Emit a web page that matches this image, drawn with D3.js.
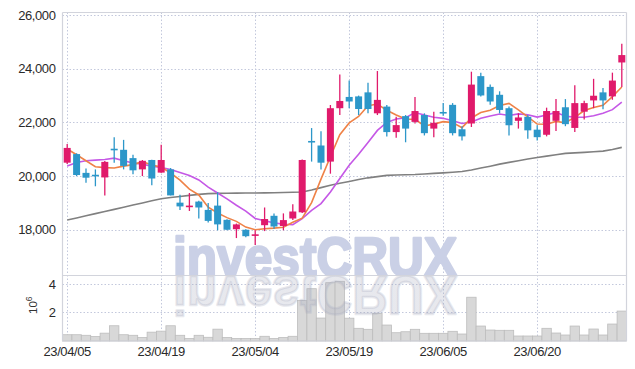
<!DOCTYPE html>
<html><head><meta charset="utf-8">
<script src="https://cdn.jsdelivr.net/npm/d3@7"></script>
<style>html,body{margin:0;padding:0;background:#fff;}svg{display:block;}</style>
</head><body>
<script>
const dates = ["23/04/05","23/04/06","23/04/07","23/04/10","23/04/11","23/04/12","23/04/13","23/04/14","23/04/17","23/04/18",
"23/04/19","23/04/20","23/04/21","23/04/24","23/04/25","23/04/26","23/04/27","23/04/28","23/05/02","23/05/03",
"23/05/04","23/05/08","23/05/09","23/05/10","23/05/11","23/05/12","23/05/15","23/05/16","23/05/17","23/05/18",
"23/05/19","23/05/22","23/05/23","23/05/24","23/05/25","23/05/26","23/05/30","23/05/31","23/06/01","23/06/02",
"23/06/05","23/06/07","23/06/08","23/06/09","23/06/12","23/06/13","23/06/14","23/06/15","23/06/16","23/06/19",
"23/06/20","23/06/21","23/06/22","23/06/23","23/06/26","23/06/27","23/06/28","23/06/29","23/06/30","23/07/03"];
const openP = [20500,20820,20120,20050,19950,21020,20980,20670,20250,20600,
20130,20250,19010,18880,19050,18740,18900,18370,18020,18000,
17800,18170,18520,18140,18420,18650,21310,21140,20540,22530,
22950,22970,23120,22340,22590,21640,22235,22020,22275,21770,
22390,22655,21745,21960,23725,23325,23030,22530,22060,22210,
21730,21540,22060,22565,21795,22400,22820,23120,22970,24235];
const highP = [21200,20850,20280,20250,20560,21450,21350,20795,20600,20610,
21170,20300,19300,19370,19080,19000,19400,18390,18230,18020,
17980,18830,18610,18610,18950,20620,21790,21670,22650,23790,
23560,23000,23475,23915,22650,22210,22275,22945,22340,22400,
22720,22720,21860,23890,23850,23410,23160,22590,22340,22275,
21895,22550,22870,22870,23385,22805,23625,23285,23855,24930];
const lowP = [20450,20000,19750,19620,19280,20500,20250,20065,20000,19660,
20120,19280,18740,18700,18420,18270,17980,17980,17690,17720,
17430,17950,18040,17980,18360,18620,20540,20250,20090,22280,
22530,22275,22340,22275,21480,21430,21260,21960,21515,21450,
22250,21515,21325,21830,22970,22655,22340,21515,21770,21390,
21325,21480,21680,21860,21640,22110,22530,22490,22845,23325];
const closeP = [21050,20040,19940,20020,20530,20990,20380,20215,20570,19910,
20600,19280,18870,18900,18830,18330,18200,18000,18200,17760,
17830,18400,18120,18360,18680,20600,21290,20500,22530,22800,
22780,22500,22500,22840,21640,21900,21770,22425,21600,21985,
22360,21600,21480,23410,23005,22780,22465,21895,22185,21705,
21450,22425,22425,21935,22720,22720,22995,22820,23560,24510];
// volume in millions of shares
const volume = [0.44,0.44,0.40,0.31,0.55,1.07,0.44,0.40,0.24,0.62,
0.69,1.07,0.40,0.17,0.40,0.26,0.83,0.24,0.17,0.17,
0.17,0.33,0.17,0.24,0.33,2.85,3.67,1.61,4.09,4.19,
1.60,0.89,0.82,1.94,1.12,0.58,0.65,0.82,0.54,0.54,
0.54,0.68,0.49,3.07,1.05,0.77,0.75,0.75,0.35,0.35,
0.35,0.89,0.56,0.42,1.05,0.42,0.84,0.42,1.19,2.10];
const ma5 = [21010,20795,20570,20350,20316,20304,20372,20427,20537,20413,
20335,20115,19846,19512,19296,18842,18626,18452,18312,18098,
17998,18038,18062,18094,18278,18432,19010,19886,20720,21544,
21980,22222,22622,22684,22452,22276,22130,22115,21867,21936,
22028,21994,21805,22167,22371,22455,22628,22711,22466,22206,
21940,21932,22038,21988,22191,22445,22559,22638,22963,23321];
const ma10 = [20380,20505,20570,20595,20620,20670,20570,20490,20445,20365,
20320,20244,20137,20025,19855,19589,19371,19149,18912,18697,
18420,18332,18257,18203,18188,18415,18724,18974,19407,19911,
20406,20816,21254,21702,21998,22128,22176,22369,22276,22194,
22152,22062,21960,22017,22154,22242,22311,22258,22317,22289,
22198,22280,22375,22227,22199,22193,22246,22338,22476,22756];
const ma60 = [18360,18440,18520,18600,18680,18760,18840,18920,19000,19080,
19155,19200,19240,19280,19320,19345,19355,19360,19365,19368,
19370,19375,19380,19390,19400,19405,19480,19570,19660,19730,
19800,19870,19935,19980,20025,20040,20050,20060,20080,20100,
20120,20145,20170,20230,20300,20370,20445,20510,20570,20635,
20695,20745,20795,20845,20865,20885,20905,20930,20990,21070];
const priceTicks = [18000,20000,22000,24000,26000];
const volTicks = [2,4];
const dateTicks = ["23/04/05","23/04/19","23/05/04","23/05/19","23/06/05","23/06/20"];

const W=635, H=369;
const L=62.5, R=626.5, T=12.5, MID=275.5, B=341;
const UP="#e01a6b", DOWN="#2c97c9", GRID="#c3c8dc", FRAME="#d2d4dc";

const svg = d3.select("body").append("svg").attr("width",W).attr("height",H)
  .style("font-family","'Liberation Sans', Arial, sans-serif");

const x = d3.scaleBand().domain(dates).range([L,R]).padding(0);
const cx = d => x(d) + x.bandwidth()/2;
const y = d3.scaleLinear().domain([16295,26097]).range([MID,T]);
const yv = d3.scaleLinear().domain([0,4.56]).range([B,276]);

const defs = svg.append("defs");
defs.append("clipPath").attr("id","volclip").append("rect").attr("x",L).attr("y",MID+0.5).attr("width",R-L).attr("height",B-MID);
defs.append("clipPath").attr("id","priceclip").append("rect").attr("x",L).attr("y",T).attr("width",R-L).attr("height",MID-T);
const lg = defs.append("linearGradient").attr("id","fade")
  .attr("gradientUnits","userSpaceOnUse").attr("x1",0).attr("y1",276).attr("x2",0).attr("y2",318);
lg.append("stop").attr("offset",0).attr("stop-color","#a4a8bc").attr("stop-opacity",0.26);
lg.append("stop").attr("offset",1).attr("stop-color","#a4a8bc").attr("stop-opacity",0);

// gridlines
const grid = svg.append("g").attr("stroke",GRID).attr("stroke-dasharray","1.5,2").attr("stroke-width",1);
grid.selectAll(".hp").data(priceTicks).join("line")
  .attr("x1",L).attr("x2",R).attr("y1",d=>Math.round(y(d))+0.5).attr("y2",d=>Math.round(y(d))+0.5);
grid.selectAll(".hv").data(volTicks).join("line")
  .attr("x1",L).attr("x2",R).attr("y1",d=>Math.round(yv(d))+0.5).attr("y2",d=>Math.round(yv(d))+0.5);
grid.selectAll(".vv").data(dateTicks).join("line")
  .attr("x1",d=>Math.round(cx(d))+0.5).attr("x2",d=>Math.round(cx(d))+0.5).attr("y1",T).attr("y2",B);

// watermark (heavy)
const wmG = svg.append("g").attr("fill","#cad0e6").attr("stroke","#cad0e6").attr("clip-path","url(#priceclip)");
wmG.append("text").attr("id","wm").attr("x",173).attr("y",276).attr("textLength",284).attr("lengthAdjust","spacingAndGlyphs")
  .attr("font-size",55).attr("font-weight","bold").attr("stroke-width",2.4).attr("stroke-linejoin","round")
  .attr("font-family","'Liberation Sans', Arial, sans-serif").text("investCRUX");

// volume bars
svg.append("g").selectAll("rect").data(dates).join("rect")
  .attr("x",d=>x(d)).attr("width",x.bandwidth())
  .attr("y",(d,i)=>yv(volume[i])).attr("height",(d,i)=>B-yv(volume[i]))
  .attr("fill","#d8d8d8").attr("stroke","#bdbdbd").attr("stroke-width",0.8);

// reflection of watermark (reuses the same text via <use>)
svg.append("g").attr("clip-path","url(#volclip)")
  .append("use").attr("href","#wm").attr("transform","translate(0,552) scale(1,-1)")
  .attr("fill","url(#fade)").attr("stroke","url(#fade)");

// frame
const fr = svg.append("g").attr("stroke",FRAME).attr("stroke-width",1.2).attr("fill","none");
fr.append("line").attr("x1",L).attr("x2",R).attr("y1",T).attr("y2",T);
fr.append("line").attr("x1",L).attr("x2",R).attr("y1",MID).attr("y2",MID);
fr.append("line").attr("x1",L).attr("x2",L).attr("y1",T).attr("y2",B);
fr.append("line").attr("x1",R).attr("x2",R).attr("y1",T).attr("y2",B);
fr.append("line").attr("x1",L).attr("x2",R).attr("y1",B).attr("y2",B);

// moving averages
const line = arr => d3.line().x((d,i)=>cx(dates[i])).y(d=>y(d))(arr);
svg.append("path").attr("d",line(ma60)).attr("fill","none").attr("stroke","#808080").attr("stroke-width",1.6);
svg.append("path").attr("d",line(ma10)).attr("fill","none").attr("stroke","#c558e6").attr("stroke-width",1.6);
svg.append("path").attr("d",line(ma5)).attr("fill","none").attr("stroke","#ef8247").attr("stroke-width",1.6);

// candles
const cg = svg.append("g").selectAll("g").data(dates).join("g");
const col = i => closeP[i] >= openP[i] ? UP : DOWN;
cg.append("line").attr("x1",d=>cx(d)).attr("x2",d=>cx(d))
  .attr("y1",(d,i)=>y(highP[i])).attr("y2",(d,i)=>y(lowP[i]))
  .attr("stroke",(d,i)=>col(i)).attr("stroke-width",1.3);
cg.append("rect").attr("x",d=>cx(d)-3.5).attr("width",7)
  .attr("y",(d,i)=>y(Math.max(openP[i],closeP[i])))
  .attr("height",(d,i)=>Math.max(1.6, Math.abs(y(openP[i])-y(closeP[i]))))
  .attr("fill",(d,i)=>col(i));

// axes
const ay = svg.append("g").attr("transform",`translate(${L},0)`)
  .call(d3.axisLeft(y).tickValues(priceTicks).tickFormat(d3.format(",")).tickSize(0).tickPadding(7));
const av = svg.append("g").attr("transform",`translate(${L},0)`)
  .call(d3.axisLeft(yv).tickValues(volTicks).tickFormat(d3.format("d")).tickSize(0).tickPadding(7));
const ax = svg.append("g").attr("transform",`translate(0,${B})`)
  .call(d3.axisBottom(x).tickValues(dateTicks).tickSize(0).tickPadding(6));
[ay,av,ax].forEach(g=>{
  g.select(".domain").remove();
  g.selectAll("text").attr("font-size",13).attr("fill","#2a2a2a")
    .attr("font-family","'Liberation Sans', Arial, sans-serif").style("letter-spacing","-0.4px");
});

// volume unit label
const ul = svg.append("text").attr("transform","translate(37,314) rotate(-90)")
  .attr("font-size",11.5).attr("fill","#333");
ul.append("tspan").text("10");
ul.append("tspan").attr("dy",-5).attr("font-size",8.5).text("6");
</script>
</body></html>
